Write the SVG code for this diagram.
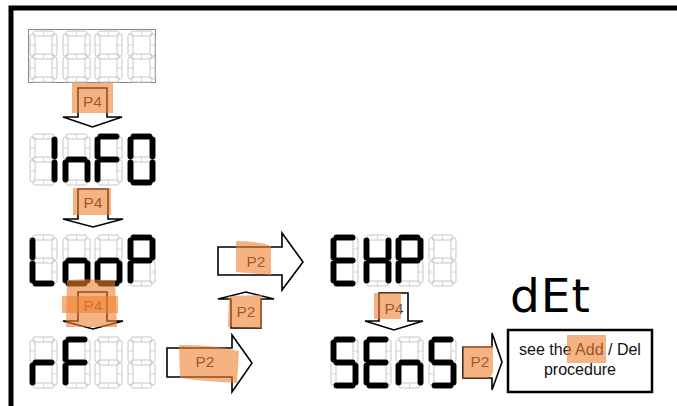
<svg xmlns="http://www.w3.org/2000/svg" xmlns:xlink="http://www.w3.org/1999/xlink" width="677" height="406" viewBox="0 0 677 406">
<style>
.on{fill:#000;stroke:#000;stroke-width:0.8}
.off{fill:none;stroke:#c6c6c6;stroke-width:1}
.tk{stroke:#d2d2d2;stroke-width:1}
.arr{fill:#fff;stroke:#000;stroke-width:1.6;stroke-linejoin:miter}
.hl{fill:#ee8030;opacity:0.6}
.lbl{font-family:"Liberation Sans",Arial,sans-serif;font-size:15.5px;fill:#1e1e1e;text-anchor:middle}
.box{font-family:"Liberation Sans",Arial,sans-serif;font-size:16px;fill:#111;text-anchor:middle}
</style>
<defs>
<rect id="sa" x="3" y="0" width="21" height="5" rx="2"/>
<rect id="sb" x="22" y="3" width="5" height="22" rx="2"/>
<rect id="sc" x="22" y="26" width="5" height="22" rx="2"/>
<rect id="sd" x="3" y="46" width="21" height="5" rx="2"/>
<rect id="se" x="0" y="26" width="5" height="22" rx="2"/>
<rect id="sf" x="0" y="3" width="5" height="22" rx="2"/>
<rect id="sg" x="3" y="23" width="21" height="5" rx="2"/>
<g id="d8">
<g class="off"><use href="#sa"/><use href="#sb"/><use href="#sc"/><use href="#sd"/><use href="#se"/><use href="#sf"/><use href="#sg"/></g>
<g class="tk">
<line x1="13.5" y1="0" x2="13.5" y2="5"/><line x1="13.5" y1="23" x2="13.5" y2="28"/><line x1="13.5" y1="46" x2="13.5" y2="51"/>
<line x1="0" y1="14" x2="5" y2="14"/><line x1="22" y1="14" x2="27" y2="14"/>
<line x1="0" y1="37" x2="5" y2="37"/><line x1="22" y1="37" x2="27" y2="37"/>
</g>
</g>
</defs>
<rect width="677" height="406" fill="#fff"/>
<path d="M11 406 V8 H677" fill="none" stroke="#000" stroke-width="5"/>

<g id="display-blank">
<rect x="28.5" y="29.5" width="127" height="53" fill="none" stroke="#8a8a8a" stroke-width="1"/>
<g transform="translate(30,31)"><use href="#d8"/></g>
<g transform="translate(63,31)"><use href="#d8"/></g>
<g transform="translate(95,31)"><use href="#d8"/></g>
<g transform="translate(128,31)"><use href="#d8"/></g>
</g>

<g id="display-InFO">
<g transform="translate(30,134)"><use href="#d8"/><use href="#sb" class="on"/><use href="#sc" class="on"/></g>
<g transform="translate(63,134)"><use href="#d8"/><use href="#sc" class="on"/><use href="#se" class="on"/><use href="#sg" class="on"/></g>
<g transform="translate(95,134)"><use href="#d8"/><use href="#sa" class="on"/><use href="#sf" class="on"/><use href="#se" class="on"/><use href="#sg" class="on"/></g>
<g transform="translate(128,134)"><use href="#d8"/><use href="#sa" class="on"/><use href="#sb" class="on"/><use href="#sc" class="on"/><use href="#sd" class="on"/><use href="#se" class="on"/><use href="#sf" class="on"/></g>
</g>

<g id="display-LooP">
<g transform="translate(30,235)"><use href="#d8"/><use href="#sf" class="on"/><use href="#se" class="on"/><use href="#sd" class="on"/></g>
<g transform="translate(63,235)"><use href="#d8"/><use href="#sg" class="on"/><use href="#sc" class="on"/><use href="#sd" class="on"/><use href="#se" class="on"/></g>
<g transform="translate(95,235)"><use href="#d8"/><use href="#sg" class="on"/><use href="#sc" class="on"/><use href="#sd" class="on"/><use href="#se" class="on"/></g>
<g transform="translate(128,235)"><use href="#d8"/><use href="#sa" class="on"/><use href="#sb" class="on"/><use href="#sf" class="on"/><use href="#sg" class="on"/><use href="#se" class="on"/></g>
</g>

<g id="display-rF">
<g transform="translate(30,337)"><use href="#d8"/><use href="#sg" class="on"/><use href="#se" class="on"/></g>
<g transform="translate(63,337)"><use href="#d8"/><use href="#sa" class="on"/><use href="#sf" class="on"/><use href="#se" class="on"/><use href="#sg" class="on"/></g>
<g transform="translate(95,337)"><use href="#d8"/></g>
<g transform="translate(128,337)"><use href="#d8"/></g>
</g>

<g id="display-EHP">
<g transform="translate(331,235)"><use href="#d8"/><use href="#sa" class="on"/><use href="#sf" class="on"/><use href="#sg" class="on"/><use href="#se" class="on"/><use href="#sd" class="on"/></g>
<g transform="translate(364,235)"><use href="#d8"/><use href="#sf" class="on"/><use href="#se" class="on"/><use href="#sb" class="on"/><use href="#sc" class="on"/><use href="#sg" class="on"/></g>
<g transform="translate(396,235)"><use href="#d8"/><use href="#sa" class="on"/><use href="#sb" class="on"/><use href="#sf" class="on"/><use href="#sg" class="on"/><use href="#se" class="on"/></g>
<g transform="translate(429,235)"><use href="#d8"/></g>
</g>

<g id="display-SEnS">
<g transform="translate(331,337)"><use href="#d8"/><use href="#sa" class="on"/><use href="#sf" class="on"/><use href="#sg" class="on"/><use href="#sc" class="on"/><use href="#sd" class="on"/></g>
<g transform="translate(364,337)"><use href="#d8"/><use href="#sa" class="on"/><use href="#sf" class="on"/><use href="#sg" class="on"/><use href="#se" class="on"/><use href="#sd" class="on"/></g>
<g transform="translate(396,337)"><use href="#d8"/><use href="#sg" class="on"/><use href="#se" class="on"/><use href="#sc" class="on"/></g>
<g transform="translate(429,337)"><use href="#d8"/><use href="#sa" class="on"/><use href="#sf" class="on"/><use href="#sg" class="on"/><use href="#sc" class="on"/><use href="#sd" class="on"/></g>
</g>

<g id="procedure-box">
<rect x="508" y="330" width="144" height="62" fill="#fff" stroke="#000" stroke-width="2.5"/>
<text class="box" x="580" y="355">see the Add / Del</text>
<text class="box" x="580" y="375">procedure</text>
<path class="hl" d="M567 335 H606 V363 H567 Z"/>
</g>

<g id="dEt-label">
<text x="510" y="312" font-family="'DejaVu Sans',sans-serif" font-size="47" letter-spacing="1" fill="#000">dEt</text>
</g>

<g id="connectors">
<polygon class="arr" points="78,88 107,88 107,117 122,117 92.5,127 63,117 78,117"/>
<text class="lbl" x="92.5" y="107">P4</text>
<path class="hl" d="M72 83 H113 V113 H72 Z"/>

<polygon class="arr" points="78,189 108,189 108,219 123,219 93,227 63,219 78,219"/>
<text class="lbl" x="93" y="208">P4</text>
<path class="hl" d="M73 188 H111 V215 H73 Z"/>

<polygon class="arr" points="78,292 107,292 107,321 123,321 93,329 63,321 78,321"/>
<text class="lbl" x="93" y="311">P4</text>
<path class="hl" d="M67 280 Q90 278 115 281 L117 327 L66 327 Z"/>
<path class="hl" d="M62 296 H118 V313 H62 Z"/>

<polygon class="arr" points="167,348 232,348 232,335 252,363 232,392 232,377 167,377"/>
<text class="lbl" x="205" y="367">P2</text>
<path class="hl" d="M179 345 Q210 344 239 351 L237 383 Q208 382 180 378 Z"/>

<polygon class="arr" points="231,328 261,328 261,299 274,299 246,292 218,299 231,299"/>
<text class="lbl" x="246" y="317">P2</text>
<path class="hl" d="M229 296 L262 295 L262 328 L228 327 Z"/>

<polygon class="arr" points="218,247 282,247 282,233 303,262 282,290 282,275 218,275"/>
<text class="lbl" x="256" y="267">P2</text>
<path class="hl" d="M236 241 Q258 241 271 246 L271 275 L236 272 Z"/>

<polygon class="arr" points="379,293 408,293 408,321 423,321 394,330 365,321 379,321"/>
<text class="lbl" x="394" y="314">P4</text>
<path class="hl" d="M374 293 H401 V319 H374 Z"/>

<polygon class="arr" points="463,347 492,347 492,333 502,362 492,390 492,378 463,378"/>
<text class="lbl" x="480" y="367">P2</text>
<path class="hl" d="M463 346 H493 V372 Q492 378 485 378 H463 Z"/>
</g>
</svg>
